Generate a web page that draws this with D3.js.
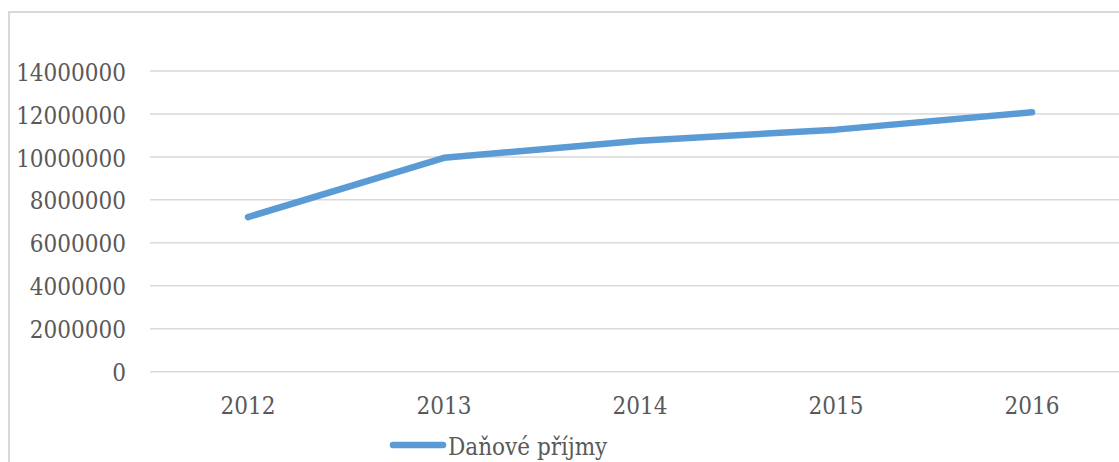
<!DOCTYPE html>
<html>
<head>
<meta charset="utf-8">
<script src="https://cdn.jsdelivr.net/npm/d3@7/dist/d3.min.js"></script>
<style>
  body { margin: 0; background: #fff; }
</style>
</head>
<body>
<div id="chart"></div>
<script>
const width = 1119;
const height = 462;
const font = "DejaVu Serif Condensed";

// data
const years = ["2012", "2013", "2014", "2015", "2016"];
const prijmy = [7200000, 9960000, 10750000, 11270000, 12080000];
const yTicks = [0, 2000000, 4000000, 6000000, 8000000, 10000000, 12000000, 14000000];
const seriesName = "Daňové příjmy";

const svg = d3.select("#chart")
    .append("svg")
    .attr("width", width)
    .attr("height", height);

// chart border (cropped on right and bottom)
svg.append("rect")
    .attr("x", 9)
    .attr("y", 12)
    .attr("width", 1200)
    .attr("height", 600)
    .attr("fill", "none")
    .attr("stroke", "#d9d9d9")
    .attr("stroke-width", 2);

const x = d3.scaleBand()
    .domain(years)
    .range([150, 150 + 196 * years.length]);

const y = d3.scaleLinear()
    .domain([0, 14000000])
    .range([371.7, 71]);

// gridlines
svg.append("g")
    .selectAll("line")
    .data(yTicks)
    .join("line")
    .attr("x1", 150)
    .attr("x2", width + 10)
    .attr("y1", d => y(d))
    .attr("y2", d => y(d))
    .attr("stroke", "#d9d9d9")
    .attr("stroke-width", 1.5);

// y axis labels
const yAxis = svg.append("g")
    .attr("transform", "translate(126,0)")
    .call(d3.axisLeft(y).tickValues(yTicks).tickSize(0).tickPadding(0).tickFormat(d3.format("d")));
yAxis.select(".domain").remove();
yAxis.selectAll("text")
    .attr("dy", "0.38em")
    .style("font-family", font)
    .style("font-size", "24px")
    .attr("fill", "#595959");

// x axis labels
const xAxis = svg.append("g")
    .attr("transform", `translate(0,${y(0)})`)
    .call(d3.axisBottom(x).tickSize(0).tickPadding(25));
xAxis.select(".domain").remove();
xAxis.selectAll("text")
    .style("font-family", font)
    .style("font-size", "24px")
    .attr("fill", "#595959");

// the line
const line = d3.line()
    .x((d, i) => x(years[i]) + x.bandwidth() / 2)
    .y(d => y(d));

svg.append("path")
    .datum(prijmy)
    .attr("d", line)
    .attr("fill", "none")
    .attr("stroke", "#5b9bd5")
    .attr("stroke-width", 6.5)
    .attr("stroke-linecap", "round")
    .attr("stroke-linejoin", "round");

// legend
const legend = svg.append("g").attr("transform", "translate(390,445)");
legend.append("line")
    .attr("x1", 3)
    .attr("x2", 53)
    .attr("y1", 0)
    .attr("y2", 0)
    .attr("stroke", "#5b9bd5")
    .attr("stroke-width", 6.5)
    .attr("stroke-linecap", "round");
legend.append("text")
    .attr("x", 58)
    .attr("y", 10)
    .style("font-family", font)
    .style("font-size", "24px")
    .attr("fill", "#595959")
    .text(seriesName);
</script>
</body>
</html>
